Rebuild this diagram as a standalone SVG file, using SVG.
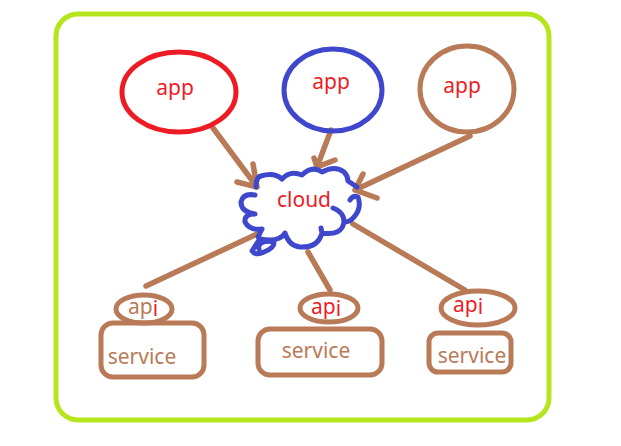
<svg xmlns="http://www.w3.org/2000/svg" width="621" height="446" viewBox="0 0 621 446">
<style>
.s{fill:none;stroke-width:5;stroke-linecap:round;stroke-linejoin:round}
.b{stroke:#b97a57}
.t{font-family:"Noto Sans","Open Sans",sans-serif;font-size:21px;text-anchor:middle}
.r{fill:#ed1c24}
.n{fill:#b97a57}
</style>
<rect width="621" height="446" fill="#fff"/>
<rect id="frame" class="s" x="56" y="14" width="493" height="406" rx="22" stroke="#b5e61d"/>
<g id="connectors" class="s b" style="stroke-width:5.5">
<path d="M213 128L257 187M253 164L257 187L237 182"/>
<path d="M331 130L317 167M314 158L317 167L335 160"/>
<path d="M470 136L355 190M363 174L355 190L377 198"/>
<path d="M146 286L257 234"/>
<path d="M308 252L330 290"/>
<path d="M353 224L465 290"/>
</g>
<g id="app1"><ellipse class="s" cx="179" cy="92" rx="57" ry="40" stroke="#ed1c24"/><text class="t r" x="175" y="95">app</text></g>
<g id="app2"><ellipse class="s" cx="333" cy="90" rx="49" ry="41" stroke="#3f48cc"/><text class="t r" x="331" y="89">app</text></g>
<g id="app3"><ellipse class="s b" cx="467" cy="89" rx="47" ry="43"/><text class="t r" x="462" y="93">app</text></g>
<g id="cloud">
<path class="s" stroke="#3f48cc" d="M256 187Q256 177 261 176Q274 172 282 179Q290 170 302 175Q312 165 322 172Q335 165 344 172Q348 176 348 181L357 187M350 200Q353 195 358 197Q362 208 354 217Q350 222 345 222M333 208Q344 212 344 222Q342 236 322 233L321 228M322 233Q318 248 300 247Q289 246 285 233Q281 240 270 240Q259 240 258 237L262 229Q250 231 245 222Q244 214 255 214Q241 212 241 202Q243 193 255 195M259 240L252 251Q256 256 264 252Q274 248 274 243Q270 240 263 242Q257 245 259 249"/>
<text class="t r" x="304" y="207">cloud</text>
</g>
<g id="api1"><ellipse class="s b" cx="144" cy="309" rx="28" ry="14"/><text class="t" x="143" y="314"><tspan class="n">ap</tspan><tspan class="r" dy="2">i</tspan></text></g>
<g id="service1"><rect class="s b" x="101" y="323" width="103" height="54" rx="12"/><text class="t n" x="142" y="364">service</text></g>
<g id="api2"><ellipse class="s b" cx="329" cy="308" rx="29" ry="14"/><text class="t r" x="326" y="314">ap<tspan dy="2">i</tspan></text></g>
<g id="service2"><rect class="s b" x="258" y="329" width="124" height="46" rx="12"/><text class="t n" x="316" y="358">service</text></g>
<g id="api3"><ellipse class="s b" cx="478" cy="308" rx="37" ry="17"/><text class="t r" x="468" y="312">ap<tspan dy="2">i</tspan></text></g>
<g id="service3"><rect class="s b" x="429" y="333" width="82" height="39" rx="9"/><text class="t n" x="472" y="363">service</text></g>
</svg>
